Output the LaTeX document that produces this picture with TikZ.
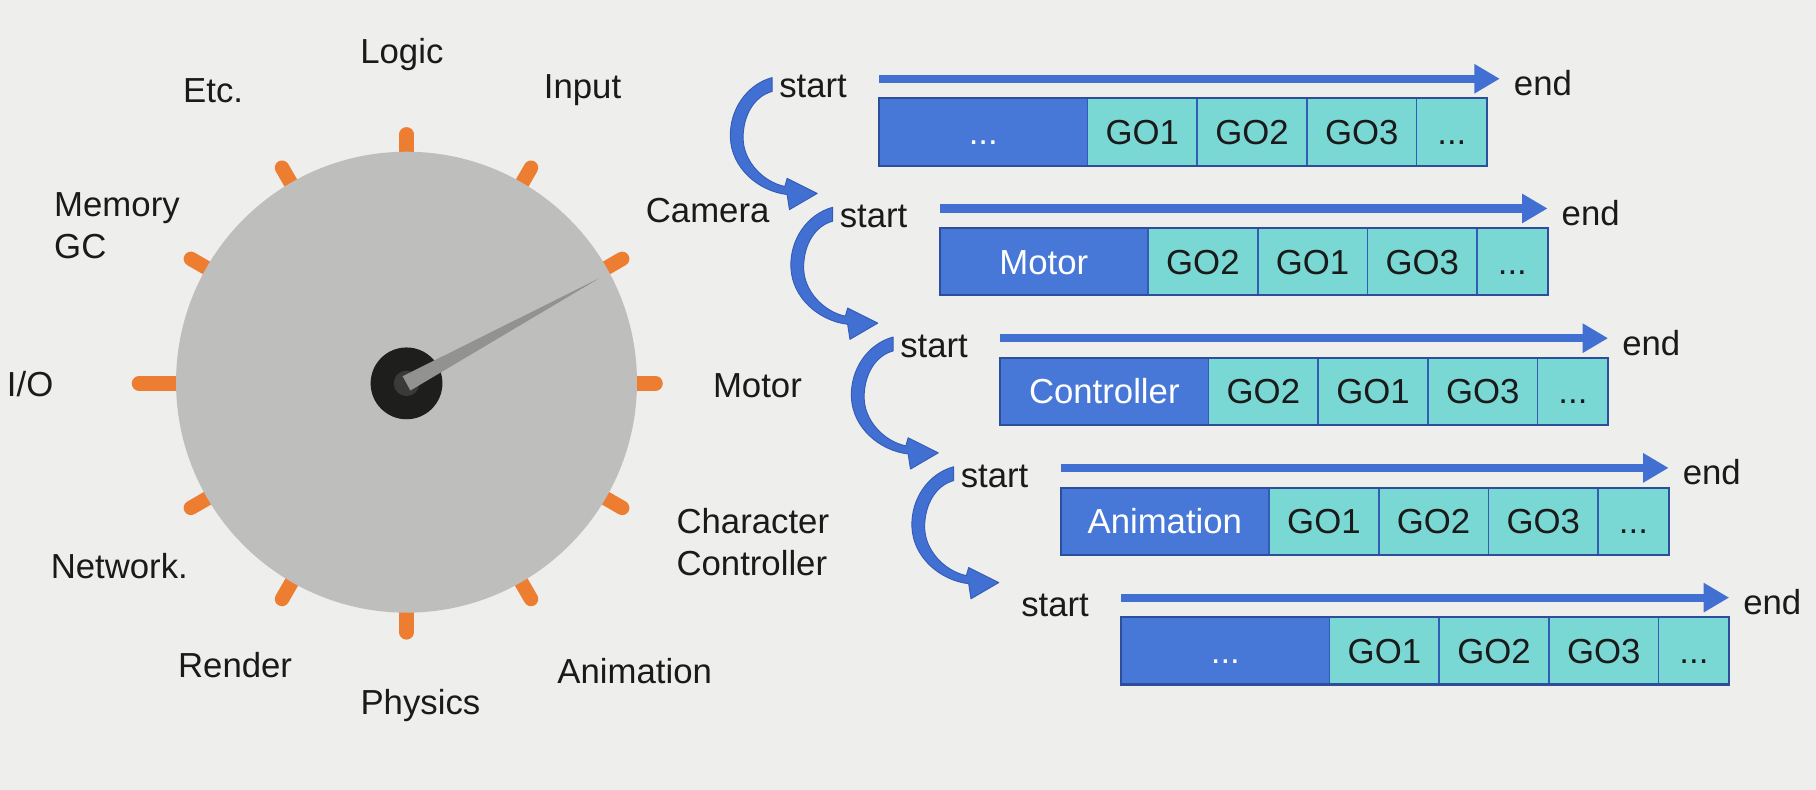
\documentclass[tikz,border=0pt]{standalone}
\usepackage{fontspec}
\setmainfont{Liberation Sans}
\usetikzlibrary{arrows.meta,calc}
\definecolor{bg}{RGB}{238,238,236}
\definecolor{dial}{RGB}{190,190,188}
\definecolor{tickc}{RGB}{237,125,49}
\definecolor{needlec}{RGB}{146,146,144}
\definecolor{hubc}{RGB}{30,30,28}
\definecolor{hubin}{RGB}{58,58,56}
\definecolor{rowblue}{RGB}{71,120,216}
\definecolor{edgeblue}{RGB}{52,92,182}
\definecolor{cellteal}{RGB}{122,216,212}
\definecolor{arrblue}{RGB}{66,112,210}
\definecolor{txt}{RGB}{26,26,26}
\newcommand\mydots{...}
\begin{document}
\begin{tikzpicture}[x=1pt,y=-1pt,
  lbl/.style={font=\fontsize{30}{36}\selectfont, inner sep=0pt, text=txt},
  tickline/.style={draw=tickc, line width=12.5pt, line cap=round},
  cellbase/.style={rectangle, minimum height=58pt, inner sep=0pt, outer sep=0pt,
     text height=21.5pt, text depth=0pt,
     draw=edgeblue, line width=1.5pt, font=\fontsize{30}{36}\selectfont},
  darkcell/.style={cellbase, fill=rowblue, text=white, minimum width=180pt},
  tealcell/.style={cellbase, fill=cellteal, text=txt, minimum width=94.7pt},
  lastcell/.style={cellbase, fill=cellteal, text=txt, minimum width=61pt},
  rowframe/.style={draw=edgeblue!85!black, line width=1.8pt},
  hline/.style={draw=arrblue, line width=7pt, -{Triangle[length=22pt,width=24pt]}},
  curvarr/.style={fill=arrblue, draw=edgeblue, line width=0.8pt, line join=round}
]
\useasboundingbox (0,0) rectangle (1568,682);
\fill[bg] (0,0) rectangle (1568,682);

% ---- dial ----
\coordinate (C) at (351,331);
\foreach \a in {0,30,...,330}{
  \ifnum\a=180
    \draw[tickline] ($(C)+(\a:185)$) -- ($(C)+(\a:231)$);
  \else
    \draw[tickline] ($(C)+(\a:185)$) -- ($(C)+(\a:215)$);
  \fi
}
\node[circle, fill=dial, minimum size=398pt, inner sep=0pt] (dialc) at (351,330) {};
\node[circle, fill=hubc, minimum size=62pt, inner sep=0pt] (hub) at (C) {};
\node[circle, fill=hubin, minimum size=22pt, inner sep=0pt] (hubcore) at (C) {};
\fill[needlec] ($(C)+(61.4:7)$) -- ($(C)+(-28.6:190)$) -- ($(C)+(-118.6:7)$) -- cycle;

% ---- dial labels ----
\node[lbl] (logic) at (347,47) {Logic};
\node[lbl] (etc) at (184,78) {Etc.};
\node[lbl] (input) at (503,78) {Input};
\node[lbl, align=left] (mem) at (101,195) {Memory\\GC};
\node[lbl] (camera) at (611,182) {Camera};
\node[lbl] (io) at (26,332) {I/O};
\node[lbl] (motor) at (654,333) {Motor};
\node[lbl, align=left] (cc) at (650,468) {Character\\Controller};
\node[lbl] (net) at (103,489) {Network.};
\node[lbl] (render) at (203,574) {Render};
\node[lbl] (phys) at (363,609) {Physics};
\node[lbl] (anim) at (548,579) {Animation};

% ---- rows ----
\foreach \i/\first/\ga/\gb/\gc in {0/\mydots/GO1/GO2/GO3, 1/Motor/GO2/GO1/GO3, 2/Controller/GO2/GO1/GO3, 3/Animation/GO1/GO2/GO3, 4/\mydots/GO1/GO2/GO3}{
  \pgfmathsetmacro\bx{759+52.25*\i}
  \pgfmathsetmacro\by{85+112*\i}
  \pgfmathsetmacro\ay{68+112*\i}
  \pgfmathsetmacro\ey{72+112*\i}
  \pgfmathsetmacro\tx{\bx+525+11*(\i==0)}
  \node[darkcell, anchor=north west] (d\i) at (\bx,\by) {\first};
  \node[tealcell, anchor=west] (a\i) at (d\i.east) {\ga};
  \node[tealcell, anchor=west] (b\i) at (a\i.east) {\gb};
  \node[tealcell, anchor=west] (c\i) at (b\i.east) {\gc};
  \node[lastcell, anchor=west] (e\i) at (c\i.east) {\mydots};
  \draw[rowframe] (d\i.north west) rectangle (e\i.south east);
  \node[lbl] (s\i) at ({702+52.25*\i},{75+112*\i}) {start};
  \coordinate (p\i) at (\bx,\ay);
  \node[lbl, anchor=west] (n\i) at ({\tx+12},\ey) {end};
  \draw[hline, shorten >=12pt] (p\i) -- (p\i -| n\i.west);
  \ifnum\i<4
    \begin{scope}[shift={($(s\i.west)+(-6,-8)$)}]
      \filldraw[curvarr] (0,0) .. controls (-22,6) and (-37,28) .. (-36,52)
        .. controls (-35,78) and (-12,98) .. (13,101)
        -- (15,114) -- (39,100) -- (13,87) -- (11,94)
        .. controls (-8,90) and (-25,72) .. (-25,52)
        .. controls (-25,32) and (-15,16) .. (0,12) -- cycle;
    \end{scope}
  \fi
}
\end{tikzpicture}
\end{document}
